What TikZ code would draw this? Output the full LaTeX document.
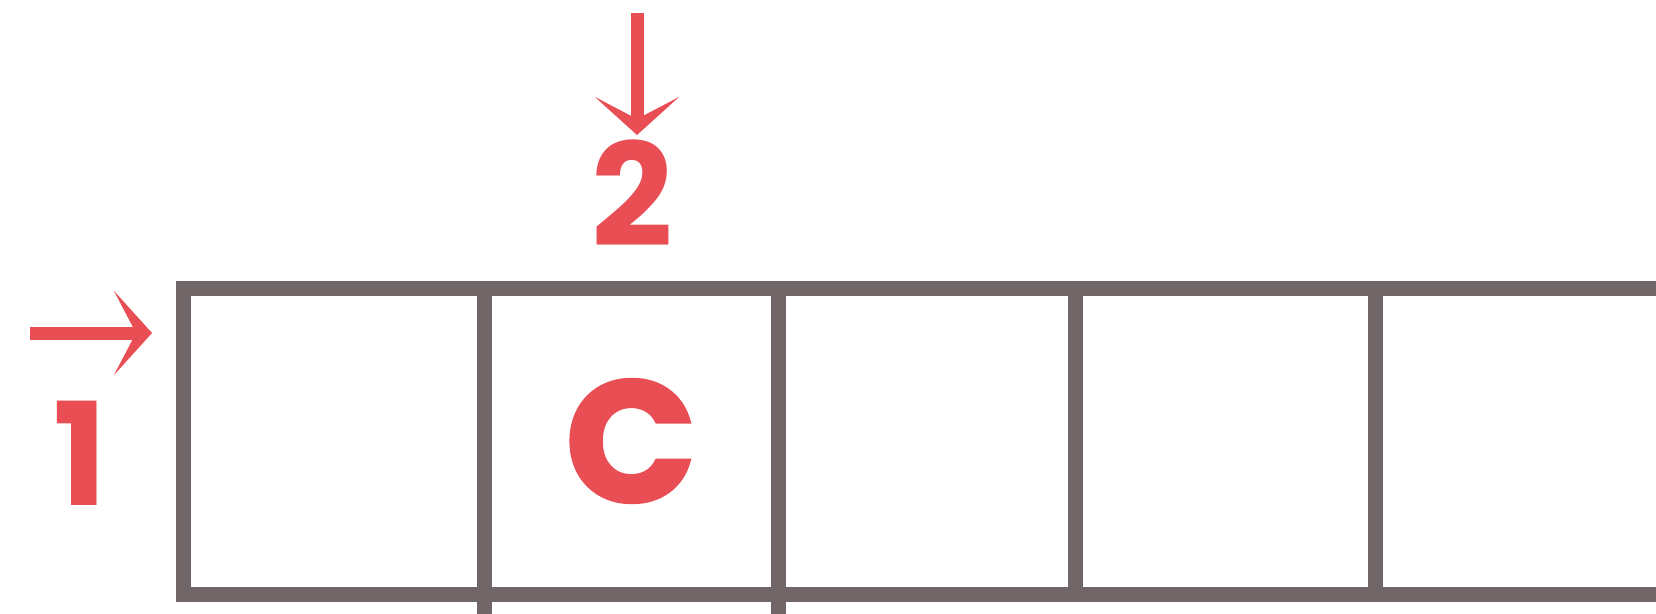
\documentclass[tikz,border=0pt]{standalone}
\usepackage{fontspec}
\setmainfont{Poppins}
\newfontfamily\cfont{Poppins}[BoldFeatures={FakeBold=2}]
\usetikzlibrary{arrows.meta}
\definecolor{mred}{RGB}{232,78,84}
\definecolor{mgray}{RGB}{112,102,104}
\begin{document}
\begin{tikzpicture}[x=1pt,y=-1pt,
  cell/.style={draw=mgray,line width=15pt,outer sep=0pt,inner sep=0pt,anchor=north west,minimum height=306pt},
  gridline/.style={draw=mgray,line width=15pt},
  redarrow/.style={draw=mred,line width=13pt,-{Stealth[length=38pt,width=84pt,inset=22pt]}},
  lbl/.style={text=mred,font=\bfseries\fontsize{143}{143}\selectfont,inner sep=0pt}]
\useasboundingbox (0,0) rectangle (1656,613);
\fill[white] (0,0) rectangle (1656,613);
\clip (0,0) rectangle (1656,613);
\node[cell,minimum width=301pt] (c1) at (183,288) {};
\node[cell,minimum width=294pt] (c2) at (484,288) {};
\node[cell,minimum width=297pt] (c3) at (778,288) {};
\node[cell,minimum width=300pt] (c4) at (1075,288) {};
\node[cell,minimum width=298pt] (c5) at (1375,288) {};
\draw[gridline] (c2.south west) -- ++(0,40);
\draw[gridline] (c2.south east) -- ++(0,40);
\node[lbl] (l1) at (80,453) {1};
\node[lbl] (l2) at (632,193) {2};
\node[lbl,font=\cfont\bfseries\fontsize{172}{172}\selectfont] (lc) at (c2.center) {C};
\coordinate (a1s) at (30,333);
\coordinate (a1e) at (152,333);
\coordinate (a2s) at (637,13);
\coordinate (a2e) at (637,135);
\draw[redarrow] (a1s) -- (a1e);
\draw[redarrow] (a2s) -- (a2e);
\end{tikzpicture}
\end{document}
